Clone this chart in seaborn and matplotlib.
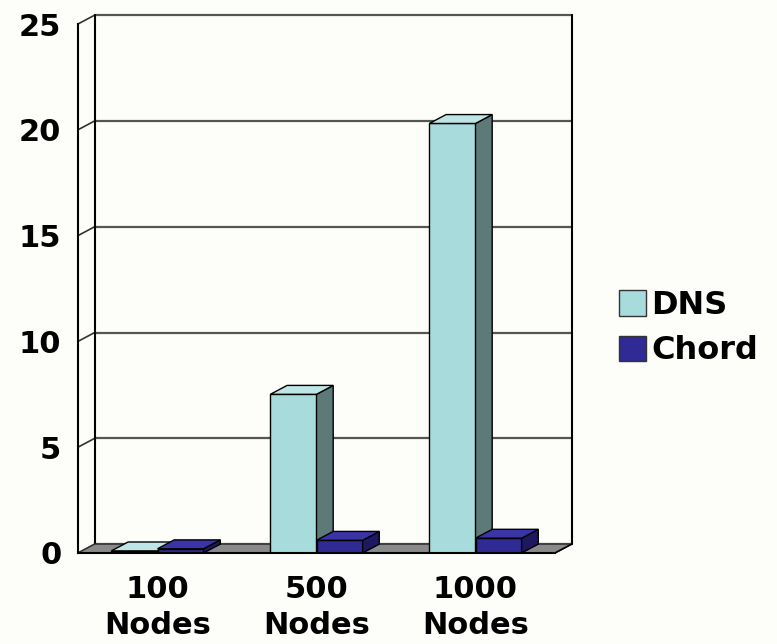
import numpy as np
import pandas as pd
import seaborn as sns
import matplotlib
matplotlib.use("Agg")
import matplotlib.pyplot as plt
from matplotlib.patches import Polygon, Patch

categories = ["100\nNodes", "500\nNodes", "1000\nNodes"]
series = ["DNS", "Chord"]
dns_values = [0.1, 7.5, 20.3]
chord_values = [0.2, 0.6, 0.7]
y_ticks = [0, 5, 10, 15, 20, 25]

front_colors = ["#a8dcdc", "#2f2a94"]
side_colors = ["#5d7a78", "#1d1860"]
top_colors = ["#bfe6e6", "#3a34a6"]

df = pd.DataFrame({
    "cat": categories * 2,
    "value": dns_values + chord_values,
    "series": [series[0]] * 3 + [series[1]] * 3,
})

sns.set_theme(style="white")
plt.rcParams["font.family"] = ["DejaVu Sans"]
plt.rcParams["text.color"] = "black"

fig = plt.figure(figsize=(7.77, 6.44), dpi=100)
fig.patch.set_facecolor("#fdfdfa")
ax = fig.add_axes([78 / 777, 1 - 553 / 644, (555 - 78) / 777, (553 - 24) / 644])
ax.set_facecolor("none")

DX, DY = 0.105, 0.42  # depth offset in data units
x0, x1 = -0.5, 2.5
ymax = 25

ax.set_xlim(x0, x1)
ax.set_ylim(0, ymax)

# back wall: gridlines and edges
for v in y_ticks:
    ax.plot([x0 + DX, x1 + DX], [v + DY, v + DY], color="#555555", lw=1.6,
            zorder=0.5, clip_on=False)
    ax.plot([x0, x0 + DX], [v, v + DY], color="#333333", lw=1.2,
            zorder=0.5, clip_on=False)
ax.plot([x0 + DX, x0 + DX], [DY, ymax + DY], color="black", lw=1.5, zorder=0.5, clip_on=False)
ax.plot([x1 + DX, x1 + DX], [DY, ymax + DY], color="black", lw=1.5, zorder=0.5, clip_on=False)

# floor
floor = Polygon([[x0, 0], [x1, 0], [x1 + DX, DY], [x0 + DX, DY]], closed=True,
                facecolor="#8a8a8a", edgecolor="#333333", lw=1.0, zorder=0.8, clip_on=False)
ax.add_patch(floor)

sns.barplot(data=df, x="cat", y="value", hue="series", palette=front_colors,
            width=0.58, edgecolor="black", linewidth=1.0, ax=ax, legend=False,
            saturation=1, zorder=2)
ax.set_xlim(x0, x1)
ax.set_ylim(0, ymax)

bars = [p for p in ax.patches if p is not floor]
n = len(categories)
for i, p in enumerate(bars):
    s = i // n
    x, w, h = p.get_x(), p.get_width(), p.get_height()
    z = 2 + s * 1.0
    p.set_zorder(z)
    side = Polygon([[x + w, 0], [x + w + DX, DY], [x + w + DX, h + DY], [x + w, h]],
                   closed=True, facecolor=side_colors[s], edgecolor="black", lw=1.0,
                   zorder=z, clip_on=False)
    top = Polygon([[x, h], [x + w, h], [x + w + DX, h + DY], [x + DX, h + DY]],
                  closed=True, facecolor=top_colors[s], edgecolor="black", lw=1.0,
                  zorder=z, clip_on=False)
    ax.add_patch(side)
    ax.add_patch(top)

# front axes
for sp in ["top", "right"]:
    ax.spines[sp].set_visible(False)
ax.spines["left"].set_color("black")
ax.spines["left"].set_linewidth(1.5)
ax.spines["bottom"].set_color("black")
ax.spines["bottom"].set_linewidth(1.5)
ax.spines["bottom"].set_zorder(5)
ax.plot([x1, x1 + DX], [0, DY], color="black", lw=1.2, zorder=5, clip_on=False)

ax.set_yticks(y_ticks)
ax.set_yticklabels([str(v) for v in y_ticks], fontsize=22, fontweight="bold", color="black")
ax.tick_params(axis="y", length=4, width=1.2, color="black", direction="out", pad=8)
ax.set_xticks(range(n))
ax.set_xticklabels(categories, fontsize=22, fontweight="bold", linespacing=1.3, color="black")
ax.tick_params(axis="x", which="major", length=0, pad=16)
ax.set_xticks([x0 + k for k in range(n + 1)], minor=True)
ax.tick_params(axis="x", which="minor", length=8, width=1.2, color="black", direction="out")
ax.set_xlabel("")
ax.set_ylabel("")

handles = [Patch(facecolor=front_colors[k], edgecolor="#333333", lw=1.0) for k in range(2)]
fig.legend(handles, series, loc="upper left", bbox_to_anchor=(619 / 777, 1 - 290 / 644),
           frameon=False, prop={"size": 23, "weight": "bold"}, handlelength=0.85,
           handleheight=0.85, handletextpad=0.15, labelspacing=0.45, borderpad=0,
           borderaxespad=0)

fig.savefig("out.png", dpi=100, facecolor=fig.get_facecolor())
